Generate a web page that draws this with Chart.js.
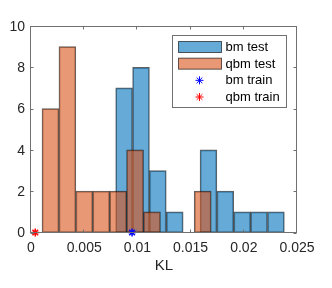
<!DOCTYPE html>
<html>
<head>
<meta charset="utf-8">
<script src="https://cdn.jsdelivr.net/npm/chart.js@4.4.1/dist/chart.umd.min.js"></script>
<style>
  html, body { margin: 0; padding: 0; background: #fff; }
  #wrap { width: 332px; height: 288px; }
</style>
</head>
<body>
<div id="wrap"><canvas id="chart" width="332" height="288"></canvas></div>
<script>
'use strict';

// ── Data ───────────────────────────────────────────────────
const bmBinCenters  = [0.00875, 0.01034, 0.01192, 0.01351, 0.01509, 0.01668, 0.01826, 0.01985, 0.02143, 0.02302];
const bmTestCounts  = [7, 8, 3, 1, 0, 4, 2, 1, 1, 1];
const qbmBinCenters = [0.00183, 0.00342, 0.00501, 0.00660, 0.00819, 0.00978, 0.01137, 0.01296, 0.01455, 0.01614];
const qbmTestCounts = [6, 9, 2, 2, 2, 4, 1, 0, 0, 2];
const bmTrainKL   = [0.0095];
const qbmTrainKL  = [0.0004];
const seriesNames = ['bm test', 'qbm test', 'bm train', 'qbm train'];
const xTickLabels = ['0', '0.005', '0.01', '0.015', '0.02', '0.025'];
const yTickLabels = ['0', '2', '4', '6', '8', '10'];

const FONT = '"Liberation Sans", Arial, Helvetica, sans-serif';
const AXIS_COLOR = '#707070';
const BLUE   = 'rgba(0,114,189,0.6)';
const ORANGE = 'rgba(217,83,25,0.6)';
const EDGE   = 'rgba(0,0,0,0.62)';

const toPoints = (xs, ys) => xs.map((x, i) => ({ x, y: ys[i] || null }));

// ── Box + inward ticks on all four sides ──────────────────
const axesBox = {
  id: 'axesBox',
  afterDatasetsDraw(chart) {
    const { ctx, chartArea: a, scales: { x, y } } = chart;
    const L = a.left - 0.5, R = a.right - 0.5, T = a.top + 0.5, B = a.bottom;
    const tl = 3;
    ctx.save();
    ctx.strokeStyle = AXIS_COLOR;
    ctx.lineWidth = 1;
    ctx.strokeRect(L, T, R - L, B - T);
    ctx.beginPath();
    x.ticks.forEach(t => {
      const px = Math.round(x.getPixelForValue(t.value)) - 0.5;
      ctx.moveTo(px, B); ctx.lineTo(px, B - tl);
      ctx.moveTo(px, T); ctx.lineTo(px, T + tl);
    });
    y.ticks.forEach(t => {
      const py = Math.round(y.getPixelForValue(t.value)) + 0.5;
      ctx.moveTo(L, py); ctx.lineTo(L + tl, py);
      ctx.moveTo(R, py); ctx.lineTo(R - tl, py);
    });
    ctx.stroke();
    ctx.restore();
  }
};

// ── Legend boxed inside the axes, top right ───────────────
const boxLegend = {
  id: 'boxLegend',
  afterDraw(chart) {
    const { ctx, chartArea: a } = chart;
    const w = 114, h = 72;
    const x0 = Math.round(a.right - 10 - w) - 0.5;
    const y0 = Math.round(a.top + 9) + 0.5;
    const pitch = 16.67;
    ctx.save();
    ctx.fillStyle = '#fff';
    ctx.fillRect(x0, y0, w, h);
    ctx.strokeStyle = AXIS_COLOR;
    ctx.lineWidth = 1;
    ctx.strokeRect(x0, y0, w, h);
    ctx.font = '13px ' + FONT;
    ctx.textBaseline = 'middle';
    ctx.textAlign = 'left';
    chart.data.datasets.forEach((ds, i) => {
      const cy = y0 + 11.5 + i * pitch;
      if (ds.type === 'scatter') {
        ctx.strokeStyle = ds.borderColor;
        Chart.helpers.drawPoint(ctx, { pointStyle: 'star', radius: 4, borderWidth: 1.5, rotation: 0 }, x0 + 27, cy);
      } else {
        ctx.fillStyle = '#fff';
        ctx.fillRect(x0 + 6, cy - 5.5, 43, 11);
        ctx.fillStyle = ds.backgroundColor;
        ctx.fillRect(x0 + 6, cy - 5.5, 43, 11);
        ctx.strokeStyle = EDGE;
        ctx.strokeRect(x0 + 6, cy - 5.5, 43, 11);
      }
      ctx.fillStyle = '#000';
      ctx.fillText(ds.label, x0 + 53, cy + 0.5);
    });
    ctx.restore();
  }
};

const barStyle = {
  borderColor: EDGE,
  borderWidth: 1,
  borderSkipped: false,
  barPercentage: 1,
  categoryPercentage: 1,
  grouped: false
};

new Chart(document.getElementById('chart'), {
  type: 'bar',
  data: {
    datasets: [
      { ...barStyle, label: seriesNames[0], data: toPoints(bmBinCenters, bmTestCounts),
        backgroundColor: BLUE, xAxisID: 'x', order: 3 },
      { ...barStyle, label: seriesNames[1], data: toPoints(qbmBinCenters, qbmTestCounts),
        backgroundColor: ORANGE, xAxisID: 'x2', order: 2 },
      { type: 'scatter', label: seriesNames[2], data: bmTrainKL.map(v => ({ x: v, y: 0 })),
        xAxisID: 'x', borderColor: '#0000ff', backgroundColor: '#0000ff',
        pointStyle: 'star', pointRadius: 4, pointBorderWidth: 1.5, clip: false, order: 1 },
      { type: 'scatter', label: seriesNames[3], data: qbmTrainKL.map(v => ({ x: v, y: 0 })),
        xAxisID: 'x', borderColor: '#ff0000', backgroundColor: '#ff0000',
        pointStyle: 'star', pointRadius: 4, pointBorderWidth: 1.5, clip: false, order: 0 }
    ]
  },
  options: {
    responsive: false,
    animation: false,
    events: [],
    layout: { padding: { left: 0, right: 35, top: 26, bottom: 0 } },
    plugins: { legend: { display: false }, tooltip: { enabled: false } },
    scales: {
      x: {
        type: 'linear', position: 'bottom', min: 0, max: 0.025, offset: false,
        grid: { display: false, drawTicks: false }, border: { display: false },
        ticks: {
          stepSize: 0.005, padding: 7, color: '#262626', maxRotation: 0,
          font: { family: FONT, size: 14 },
          callback: (v, i) => xTickLabels[i]
        },
        title: { display: true, text: 'KL', color: '#262626',
                 font: { family: FONT, size: 15 }, padding: { top: 0, bottom: 13 } },
        afterFit: s => { s.height = 55.5; }
      },
      x2: {
        type: 'linear', display: false, min: 0, max: 0.025, offset: false,
        ticks: { stepSize: 0.005 }
      },
      y: {
        min: 0, max: 10,
        grid: { display: false, drawTicks: false }, border: { display: false },
        ticks: {
          stepSize: 2, padding: 6, color: '#262626', labelOffset: 1,
          font: { family: FONT, size: 14 },
          callback: (v, i) => yTickLabels[i]
        },
        afterFit: s => { s.width = 31; }
      }
    }
  },
  plugins: [axesBox, boxLegend]
});
</script>
</body>
</html>
